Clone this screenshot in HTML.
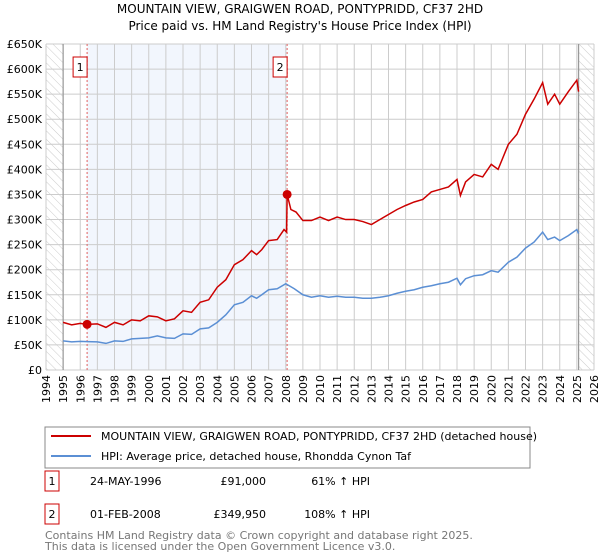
<!DOCTYPE html>
<html><head><meta charset="utf-8"><style>
body{margin:0;background:#fff;font-family:"DejaVu Sans","Liberation Sans",sans-serif;}
#wrap{position:relative;width:600px;height:560px;overflow:hidden;}
svg text{font-family:"DejaVu Sans","Liberation Sans",sans-serif;}
</style></head><body>
<div id="wrap">
<svg id="chart" width="600" height="560">
<defs><pattern id="hatch" width="6" height="6" patternUnits="userSpaceOnUse" patternTransform="rotate(-45)"><line x1="0" y1="0" x2="0" y2="6" stroke="#ccc" stroke-width="1"/></pattern></defs>
<text x="300" y="13" text-anchor="middle" font-size="12">MOUNTAIN VIEW, GRAIGWEN ROAD, PONTYPRIDD, CF37 2HD</text>
<text x="300" y="30" text-anchor="middle" font-size="12">Price paid vs. HM Land Registry's House Price Index (HPI)</text>
<g id="plot"></g>
<rect x="45" y="427" width="485" height="41" fill="#fff" stroke="#888"/>
<line x1="51" y1="436" x2="91" y2="436" stroke="#cc0000" stroke-width="2"/>
<text x="101" y="440" font-size="11">MOUNTAIN VIEW, GRAIGWEN ROAD, PONTYPRIDD, CF37 2HD (detached house)</text>
<line x1="51" y1="456" x2="91" y2="456" stroke="#5b8fd4" stroke-width="2"/>
<text x="101" y="460" font-size="11">HPI: Average price, detached house, Rhondda Cynon Taf</text>
<g>
<rect x="45" y="471" width="14" height="20" fill="#fff" stroke="#cc0000"/>
<text x="52" y="485" text-anchor="middle" font-size="11">1</text>
<text x="90" y="485" font-size="11">24-MAY-1996</text>
<text x="266" y="485" text-anchor="end" font-size="11">£91,000</text>
<text x="370" y="485" text-anchor="end" font-size="11">61% ↑ HPI</text></g>
<g>
<rect x="45" y="504" width="14" height="20" fill="#fff" stroke="#cc0000"/>
<text x="52" y="518" text-anchor="middle" font-size="11">2</text>
<text x="90" y="518" font-size="11">01-FEB-2008</text>
<text x="266" y="518" text-anchor="end" font-size="11">£349,950</text>
<text x="370" y="518" text-anchor="end" font-size="11">108% ↑ HPI</text></g>
<text x="45" y="539" font-size="11" fill="#777">Contains HM Land Registry data © Crown copyright and database right 2025.</text>
<text x="45" y="550" font-size="11" fill="#777">This data is licensed under the Open Government Licence v3.0.</text>
</svg></div>
<script>
const yTicks=[0,50,100,150,200,250,300,350,400,450,500,550,600,650];
const yTickLabels=["£0","£50K","£100K","£150K","£200K","£250K","£300K","£350K","£400K","£450K","£500K","£550K","£600K","£650K"];
const years=[1994,1995,1996,1997,1998,1999,2000,2001,2002,2003,2004,2005,2006,2007,2008,2009,2010,2011,2012,2013,2014,2015,2016,2017,2018,2019,2020,2021,2022,2023,2024,2025,2026];
const hpiT=[1995,1995.5,1996,1996.4,1997,1997.5,1998,1998.5,1999,1999.5,2000,2000.5,2001,2001.5,2002,2002.5,2003,2003.5,2004,2004.5,2005,2005.5,2006,2006.3,2006.6,2007,2007.5,2008,2008.5,2009,2009.5,2010,2010.5,2011,2011.5,2012,2012.5,2013,2013.5,2014,2014.5,2015,2015.5,2016,2016.5,2017,2017.5,2018,2018.2,2018.5,2019,2019.5,2020,2020.4,2021,2021.5,2022,2022.5,2023,2023.3,2023.7,2024,2024.5,2025,2025.1];
const hpiV=[58,56,57,56.5,56,53,58,57,62,63,64,68,64,63,72,71,82,84,95,110,130,135,148,143,150,160,162,172,162,150,145,148,145,147,145,145,143,143,145,148,153,157,160,165,168,172,175,183,170,182,188,190,198,195,215,225,243,255,275,260,265,258,268,280,272];
const propT=[1995,1995.5,1996,1996.4,1997,1997.5,1998,1998.5,1999,1999.5,2000,2000.5,2001,2001.5,2002,2002.5,2003,2003.5,2004,2004.5,2005,2005.5,2006,2006.3,2006.6,2007,2007.5,2007.9,2008.05,2008.08,2008.3,2008.6,2009,2009.5,2010,2010.5,2011,2011.5,2012,2012.5,2013,2013.5,2014,2014.5,2015,2015.5,2016,2016.5,2017,2017.5,2018,2018.2,2018.5,2019,2019.5,2020,2020.4,2021,2021.5,2022,2022.5,2023,2023.3,2023.7,2024,2024.5,2025,2025.1];
const propV=[95,90,93,91,92,85,95,90,100,98,108,106,98,102,118,115,135,140,165,180,210,220,238,230,240,258,260,280,275,350,320,315,298,298,305,298,305,300,300,296,290,300,310,320,328,335,340,355,360,365,380,348,375,390,385,410,400,450,470,510,540,573,530,550,530,555,578,555];
const saleT=[1996.4,2008.08];
const saleV=[91,349.95];
const saleLabels=["1","2"];
const X0=46,X1=594,Y0=370,Y1=44;
const x=t=>X0+(t-1994)/(2026-1994)*(X1-X0);
const y=v=>Y0-v/650*(Y0-Y1);
const NS="http://www.w3.org/2000/svg";
const g=document.getElementById('plot');
function mk(tag,at){const e=document.createElementNS(NS,tag);for(const k in at)e.setAttribute(k,at[k]);g.appendChild(e);return e;}
let e;
e=mk('rect',{x:x(saleT[0]),y:Y1,width:x(saleT[1])-x(saleT[0]),height:Y0-Y1,fill:'#f2f6fd'});

e=mk('rect',{x:X0,y:Y1,width:x(1995)-X0,height:Y0-Y1,fill:'url(#hatch)'});

e=mk('rect',{x:x(2025.1),y:Y1,width:X1-x(2025.1),height:Y0-Y1,fill:'url(#hatch)'});

yTicks.forEach((v,i)=>{e=mk('line',{x1:X0,x2:X1,y1:y(v),y2:y(v),stroke:'#ccc'});

e=mk('text',{x:X0-4,y:y(v)+4,'text-anchor':'end','font-size':11});e.textContent=yTickLabels[i];
});
years.forEach(yr=>{e=mk('line',{x1:x(yr),x2:x(yr),y1:Y1,y2:Y0,stroke:'#ccc'});

e=mk('text',{x:0,y:0,'text-anchor':'end','font-size':11,transform:`translate(${x(yr)+4},${Y0+5}) rotate(-90)`});e.textContent=yr;
});
[1995,2025.1].forEach(t=>{e=mk('line',{x1:x(t),x2:x(t),y1:Y1,y2:Y0,stroke:'#999','stroke-width':1.2});
});
saleT.forEach((t,i)=>{e=mk('line',{x1:x(t),x2:x(t),y1:Y1,y2:Y0,stroke:'#e06060','stroke-dasharray':'2,2'});

e=mk('rect',{x:x(t)-14,y:57,width:14,height:20,fill:'#fff',stroke:'#cc0000'});

e=mk('text',{x:x(t)-7,y:71,'text-anchor':'middle','font-size':11});e.textContent=saleLabels[i];
});
e=mk('polyline',{points:hpiT.map((t,i)=>x(t)+','+y(hpiV[i])).join(' '),fill:'none',stroke:'#5b8fd4','stroke-width':1.5});

e=mk('polyline',{points:propT.map((t,i)=>x(t)+','+y(propV[i])).join(' '),fill:'none',stroke:'#cc0000','stroke-width':1.5});

saleT.forEach((t,i)=>{e=mk('circle',{cx:x(t),cy:y(saleV[i]),r:4.5,fill:'#cc0000'});
});
</script>
</body></html>
